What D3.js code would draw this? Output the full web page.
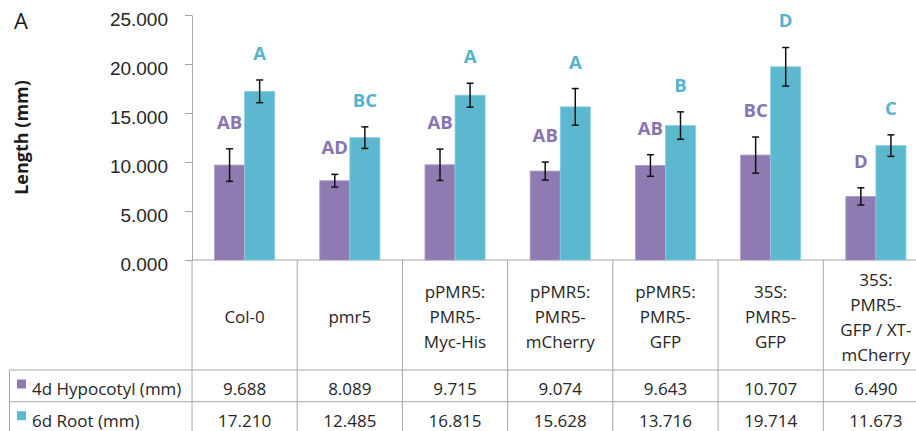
<!DOCTYPE html>
<html>
<head>
<meta charset="utf-8">
<script src="https://cdn.jsdelivr.net/npm/d3@7"></script>
<style>
  body { margin: 0; background: #fff; }
  svg { display: block; font-family: "Open Sans", sans-serif; }
</style>
</head>
<body>
<div id="chart"></div>
<script>
const categories = ["Col-0", "pmr5", "pPMR5:\nPMR5-\nMyc-His", "pPMR5:\nPMR5-\nmCherry",
  "pPMR5:\nPMR5-\nGFP", "35S:\nPMR5-\nGFP", "35S:\nPMR5-\nGFP / XT-\nmCherry"];
const seriesNames = ["4d Hypocotyl (mm)", "6d Root (mm)"];
const hypocotyl = [9.688, 8.089, 9.715, 9.074, 9.643, 10.707, 6.490];
const root = [17.210, 12.485, 16.815, 15.628, 13.716, 19.714, 11.673];
const hypocotylErr = [1.66, 0.65, 1.6, 0.92, 1.1, 1.84, 0.88];
const rootErr = [1.16, 1.1, 1.22, 1.87, 1.4, 1.97, 1.1];
const hypocotylLetters = ["AB", "AD", "AB", "AB", "AB", "BC", "D"];
const rootLetters = ["A", "BC", "A", "A", "B", "D", "C"];
const yTicks = [0, 5, 10, 15, 20, 25];

const width = 916;
const height = 431;
const axisX = 192;
const colors = ["#8f7bb1", "#5bb8cf"];
const letterColors = ["#8a74af", "#55b2cc"];
const gridGray = "#a6a6a6";

const svg = d3.select("#chart").append("svg")
  .attr("width", width)
  .attr("height", height);

const x = d3.scaleBand()
  .domain(d3.range(categories.length))
  .range([axisX, 928.5]);

const sub = d3.scaleBand()
  .domain([0, 1])
  .range([0, x.bandwidth()])
  .paddingOuter(0.75);

const y = d3.scaleLinear()
  .domain([0, 25])
  .range([260, 15]);

const rowTop = 370;
const rowMid = 401.7;
const rowBottom = 433.4;

// y axis
const yAxis = svg.append("g")
  .attr("transform", `translate(${axisX},0)`)
  .call(d3.axisLeft(y).tickValues(yTicks).tickFormat(d3.format(".3f"))
    .tickSize(7).tickSizeOuter(0).tickPadding(17));
yAxis.select(".domain").attr("stroke", gridGray);
yAxis.selectAll(".tick line").attr("stroke", gridGray);
yAxis.selectAll(".tick text")
  .attr("font-size", 19)
  .attr("fill", "#262626")
  .attr("dy", "0.55em");

svg.append("text")
  .attr("transform", `translate(28,${(y(0) + y(25)) / 2}) rotate(-90)`)
  .attr("text-anchor", "middle")
  .attr("font-size", 18)
  .attr("font-weight", "bold")
  .attr("fill", "#1a1a1a")
  .text("Length (mm)");

svg.append("text")
  .attr("x", 14)
  .attr("y", 29)
  .attr("font-size", 22)
  .attr("fill", "#1a1a1a")
  .text("A");

// data table lines
const table = svg.append("g").attr("stroke", gridGray).attr("stroke-width", 1);
table.append("line")
  .attr("x1", axisX).attr("x2", 928.5)
  .attr("y1", y(0)).attr("y2", y(0));
d3.range(categories.length + 1).forEach(i => {
  const xx = axisX + i * x.step();
  table.append("line")
    .attr("x1", xx).attr("x2", xx)
    .attr("y1", y(0)).attr("y2", rowBottom);
});
[rowTop, rowMid, rowBottom].forEach(yy => {
  table.append("line")
    .attr("x1", 9.5).attr("x2", 928.5)
    .attr("y1", yy).attr("y2", yy);
});
table.append("line")
  .attr("x1", 9.5).attr("x2", 9.5)
  .attr("y1", rowTop).attr("y2", rowBottom);

// bars
const series = [hypocotyl, root];
const errs = [hypocotylErr, rootErr];
const letters = [hypocotylLetters, rootLetters];

const rows = categories.map((c, i) => [0, 1].map(s => ({
  cat: i, s: s, v: series[s][i], e: errs[s][i], label: letters[s][i]
})));

const groups = svg.selectAll(".cat")
  .data(rows)
  .enter()
  .append("g")
  .attr("class", "cat")
  .attr("transform", (d, i) => `translate(${x(i)},0)`);

const bars = groups.selectAll(".bar")
  .data(d => d)
  .enter()
  .append("g");

bars.append("rect")
  .attr("x", d => sub(d.s))
  .attr("width", sub.bandwidth())
  .attr("y", d => y(d.v))
  .attr("height", d => y(0) - y(d.v))
  .attr("fill", d => colors[d.s])
  .attr("stroke", d => d.s ? "#8ccde0" : "#ab9bc6")
  .attr("stroke-width", 0.8);

const cx = d => sub(d.s) + sub.bandwidth() / 2;

bars.append("line")
  .attr("x1", cx).attr("x2", cx)
  .attr("y1", d => y(d.v + d.e)).attr("y2", d => y(d.v - d.e))
  .attr("stroke", "#111").attr("stroke-width", 1.5);

[1, -1].forEach(sign => {
  bars.append("line")
    .attr("x1", d => cx(d) - 3.5).attr("x2", d => cx(d) + 3.5)
    .attr("y1", d => y(d.v + sign * d.e)).attr("y2", d => y(d.v + sign * d.e))
    .attr("stroke", "#111").attr("stroke-width", 1.5);
});

bars.append("text")
  .attr("x", cx)
  .attr("y", d => y(d.v + d.e) - 20)
  .attr("text-anchor", "middle")
  .attr("font-size", 18.5)
  .attr("font-weight", "bold")
  .attr("fill", d => letterColors[d.s])
  .text(d => d.label);

// category labels
const catText = svg.selectAll(".catlabel")
  .data(categories)
  .enter()
  .append("text")
  .attr("class", "catlabel")
  .attr("text-anchor", "middle")
  .attr("font-size", 17)
  .attr("fill", "#262626");

catText.each(function(c, i) {
  const lines = c.split("\n");
  const lh = 25;
  const top = 317 - (lines.length - 1) * lh / 2 + 6;
  d3.select(this).selectAll("tspan")
    .data(lines)
    .enter()
    .append("tspan")
    .attr("x", x(i) + x.bandwidth() / 2)
    .attr("y", (l, k) => top + k * lh)
    .text(l => l);
});

// table values and legend keys
const rowYs = [rowTop, rowMid];
series.forEach((vals, s) => {
  const base = rowYs[s] + 25;
  svg.append("rect")
    .attr("x", 17)
    .attr("y", rowYs[s] + 9.5)
    .attr("width", 9)
    .attr("height", 9)
    .attr("fill", colors[s]);
  svg.append("text")
    .attr("x", 32)
    .attr("y", base)
    .attr("font-size", 17)
    .attr("fill", "#262626")
    .text(seriesNames[s]);
  svg.selectAll(".val" + s)
    .data(vals)
    .enter()
    .append("text")
    .attr("x", (d, i) => x(i) + x.bandwidth() / 2)
    .attr("y", base)
    .attr("text-anchor", "middle")
    .attr("font-size", 17)
    .attr("fill", "#262626")
    .text(d => d3.format(".3f")(d));
});
</script>
</body>
</html>
